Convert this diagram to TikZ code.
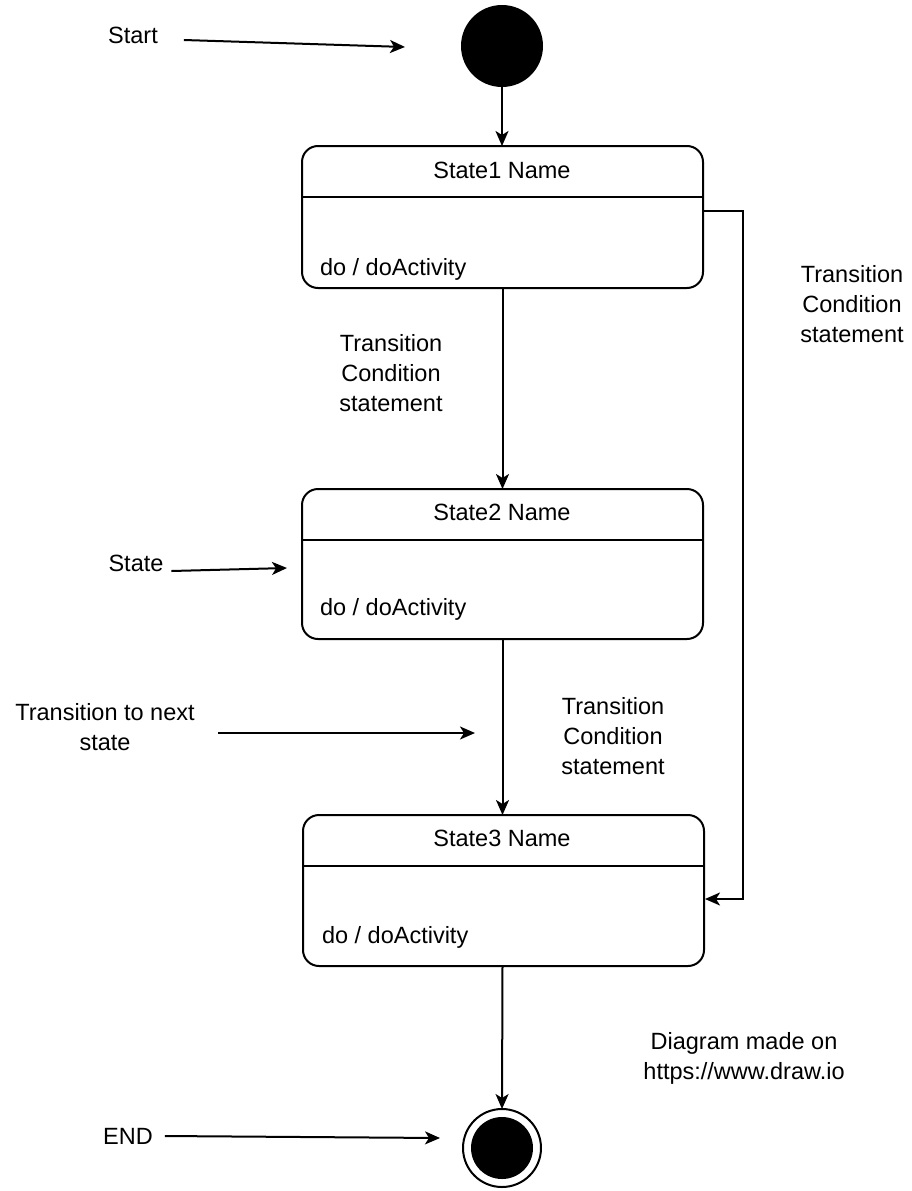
\documentclass[tikz,border=0pt]{standalone}
\usepackage{fontspec}
\setmainfont{Liberation Sans}
\usetikzlibrary{arrows.meta,calc}
\begin{document}
\begin{tikzpicture}[x=1pt,y=-1pt,
  every node/.style={font=\fontsize{23.5}{30}\selectfont, inner sep=0pt, outer sep=0pt},
  statebox/.style={draw, line width=2pt, rounded corners=16pt, minimum width=401pt, anchor=north west},
  lbl/.style={align=center},
  conn/.style={line width=2pt, -{Stealth[length=15pt,width=13pt,inset=4pt]}},
  plain/.style={line width=2pt}
]
\useasboundingbox (0,0) rectangle (912,1191);
% initial and final
\node[circle, fill=black, minimum size=82pt] (init) at (502,46) {};
\node[circle, draw, line width=2pt, minimum size=78pt] (final) at (502,1148) {};
\node[circle, fill=black, minimum size=62pt] (finalin) at (502,1148) {};
% states
\node[statebox, minimum height=142pt] (s1) at (302,146) {};
\node[statebox, minimum height=150pt] (s2) at (302,489) {};
\node[statebox, minimum height=151pt] (s3) at (303,815) {};
\draw[line width=1.6pt] (302,197) -- (703,197);
\draw[line width=1.6pt] (302,540) -- (703,540);
\draw[line width=1.6pt] (303,866) -- (704,866);
\node (t1) at (502,170) {State1 Name};
\node (t2) at (502,512) {State2 Name};
\node (t3) at (502,838) {State3 Name};
\node[anchor=west] (d1) at (320,269) {do / doActivity};
\node[anchor=west] (d2) at (320,609) {do / doActivity};
\node[anchor=west] (d3) at (322,937) {do / doActivity};
% labels
\node (start) at (133,35) {Start};
\node (state) at (136,563) {State};
\node[lbl] (tnext) at (105,727) {Transition to next\\state};
\node (endl) at (128,1136) {END};
\node[lbl] (c1) at (391,373) {Transition\\Condition\\statement};
\node[lbl] (c2) at (613,736) {Transition\\Condition\\statement};
\node[lbl] (c3) at (852,304) {Transition\\Condition\\statement};
\node[lbl] (credit) at (744,1058) {Diagram made on\\https://www.draw.io};
% free ends
\coordinate (pstart) at (405,47);
\coordinate (pstate) at (287,568);
\coordinate (pnext) at (475,733);
\coordinate (pend) at (440,1138);
\coordinate (r1) at (703,211);
\coordinate (r2) at (743,211);
\coordinate (r3) at (743,899);
\coordinate (r4) at (705,899);
% connectors
\draw[conn] (init) -- (init |- s1.north);
\draw[conn] (s1.south) -- (s2.north);
\draw[conn] (s2.south) -- (s2.south |- s3.north);
\draw[conn] (s2.south |- s3.south) -- (final.north);
\draw[conn] (r1) -- (r2) -- (r3) -- (r4);
\draw[conn] ([xshift=26pt,yshift=-5pt]start.east) -- (pstart);
\draw[conn] ([xshift=8pt,yshift=-8pt]state.east) -- (pstate);
\draw[conn] (218,733) -- (pnext);
\draw[conn] ([xshift=12pt]endl.east) -- (pend);
\end{tikzpicture}
\end{document}
